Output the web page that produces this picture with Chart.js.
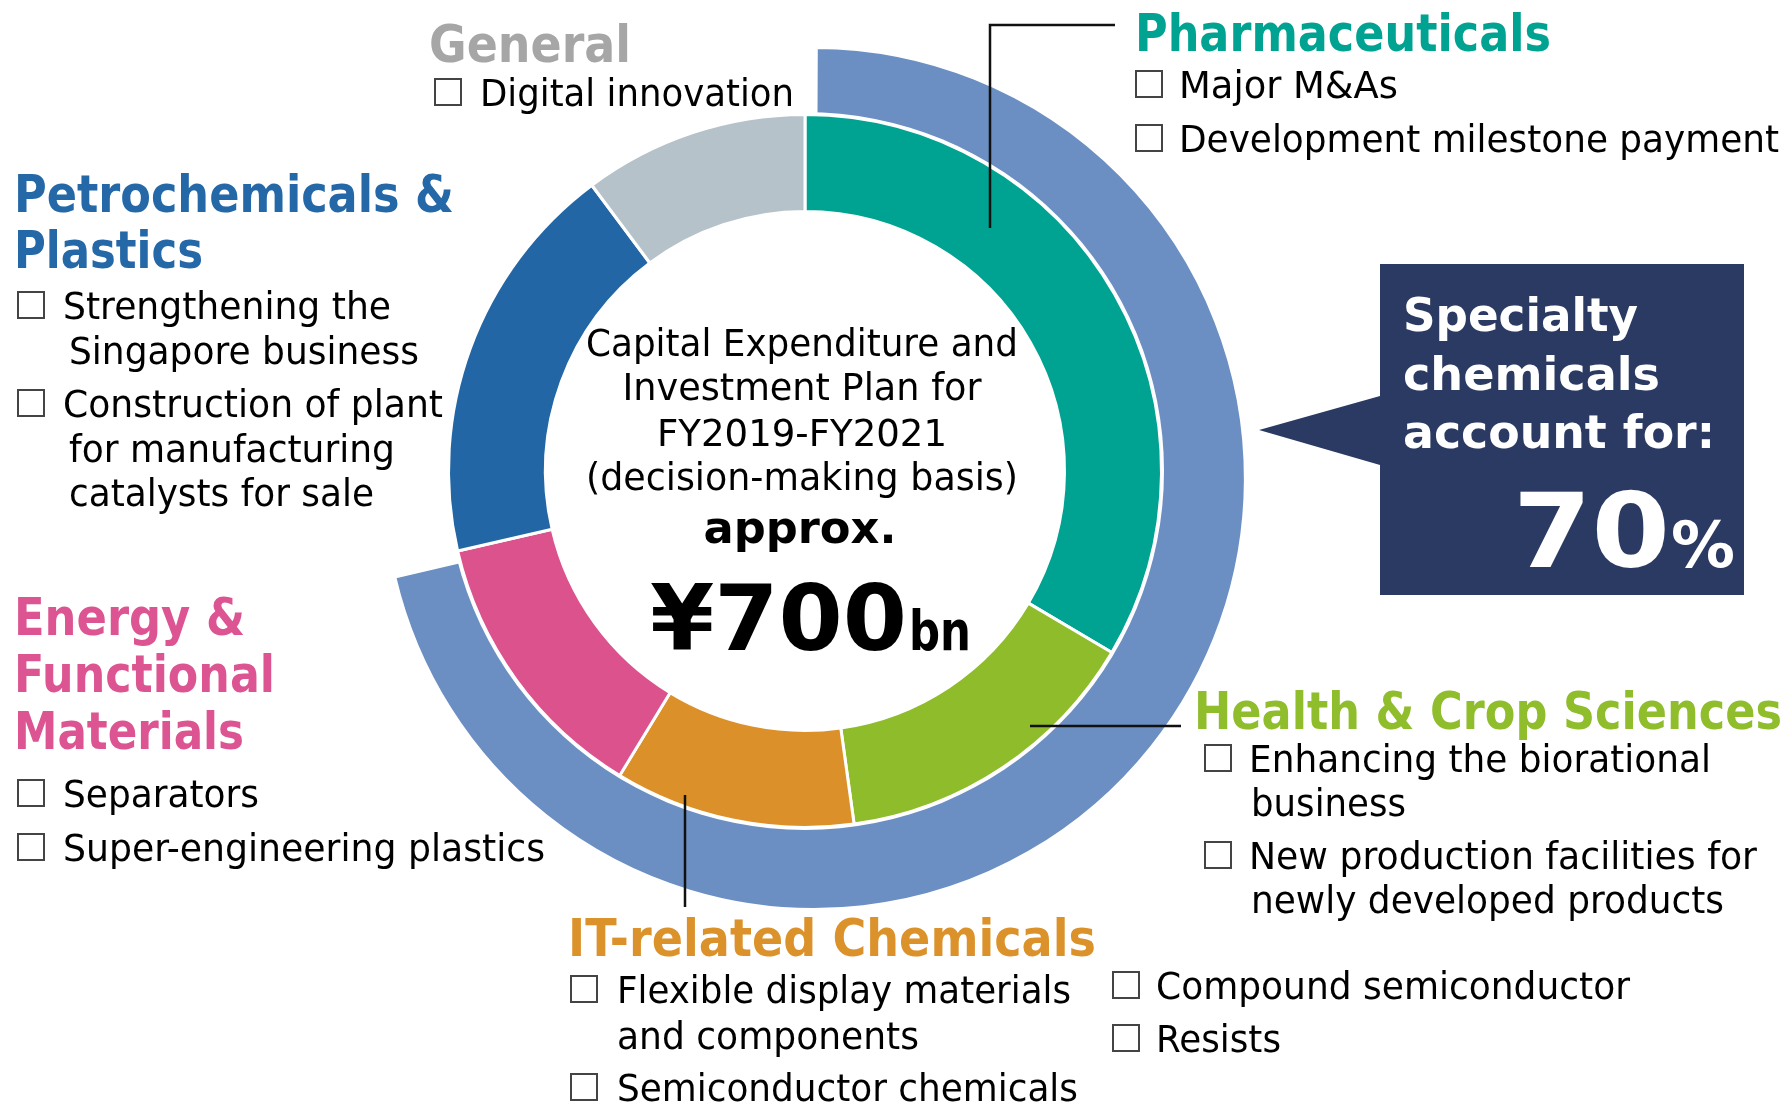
<!DOCTYPE html>
<html><head><meta charset="utf-8">
<script src="https://cdn.jsdelivr.net/npm/chart.js@4.4.1/dist/chart.umd.min.js"></script>
<style>
html,body{margin:0;padding:0;background:#fff;overflow:hidden}
#wrap{position:relative;width:1788px;height:1104px}
canvas{display:block}
</style></head>
<body><div id="wrap"><canvas id="c" width="1788" height="1104"></canvas></div>
<script>
// ---------- data ----------
const categories = ['Pharmaceuticals', 'Health & Crop Sciences', 'IT-related Chemicals',
  'Energy & Functional Materials', 'Petrochemicals & Plastics', 'General'];
const shares = [33.5, 14.3, 10.9, 12.7, 18.4, 10.2];           // % of ~¥700bn plan
const isSpecialty = [true, true, true, true, false, false];
const specialtyLabel = ['70', '%'];
const totalLabel = ['¥700', 'bn'];
const centerLines = ['Capital Expenditure and', 'Investment Plan for', 'FY2019-FY2021', '(decision-making basis)', 'approx.'];
const calloutLines = ['Specialty', 'chemicals', 'account for:'];
const headingLines = {
  general: ['General'],
  pharma: ['Pharmaceuticals'],
  petro: ['Petrochemicals &', 'Plastics'],
  energy: ['Energy &', 'Functional', 'Materials'],
  health: ['Health & Crop Sciences'],
  it: ['IT-related Chemicals']
};
const itemLines = {
  general: [['Digital innovation']],
  pharma: [['Major M&As'], ['Development milestone payment']],
  petro: [['Strengthening the', 'Singapore business'], ['Construction of plant', 'for manufacturing', 'catalysts for sale']],
  energy: [['Separators'], ['Super-engineering plastics']],
  health: [['Enhancing the biorational', 'business'], ['New production facilities for', 'newly developed products']],
  it: [['Flexible display materials', 'and components'], ['Semiconductor chemicals'], ['Compound semiconductor'], ['Resists']]
};

// ---------- derived ----------
const specialtyTotal = shares.reduce((s, v, i) => s + (isSpecialty[i] ? v : 0), 0);
const outerData = [specialtyTotal, 100 - specialtyTotal];

// ---------- styles / layout ----------
const FONT = '"DejaVu Sans", Verdana, sans-serif';
const segColors = ['#00a392', '#8fbc2a', '#dc9029', '#dc528d', '#2366a6', '#b5c2ca'];
const outerColor = '#6b8fc3';
const headColors = { general: '#a6a6a6', pharma: '#00a392', petro: '#2468a8', energy: '#dc5491', health: '#8fbd2b', it: '#dc922b' };
const HEAD = 'bold 52px ' + FONT;
const BODY = '37px ' + FONT;

// heading layout: [x, baseline, width] per line
const headLayout = {
  general: [[429, 62, 202]],
  pharma: [[1135, 51, 416]],
  petro: [[14, 212, 440], [14, 268, 189]],
  energy: [[14, 635, 231], [14, 692, 261], [14, 749, 230]],
  health: [[1194, 729, 588]],
  it: [[568, 956, 528]]
};
// item layout: box x, text x, [baseline, width] for each line
const itemLayout = {
  general: [[434, 480, [[106, 314]]]],
  pharma: [[1135, 1179, [[98, 219]]], [1135, 1179, [[152, 600]]]],
  petro: [[17, 63, [[319, 328], [364, 350]]], [17, 63, [[417, 380], [462, 326], [506, 305]]]],
  energy: [[17, 63, [[807, 196]]], [17, 63, [[861, 482]]]],
  health: [[1204, 1249, [[772, 462], [816, 155]]], [1204, 1249, [[869, 508], [913, 473]]]],
  it: [[570, 617, [[1003, 454], [1049, 302]]], [570, 617, [[1101, 461]]], [1112, 1156, [[999, 474]]], [1112, 1156, [[1052, 125]]]]
};
const contLineIndent = { petro: 6, health: 2, it: 0, general: 0, pharma: 0, energy: 0 };

function drawText(ctx, s, x, y, w, font, color, align) {
  ctx.save();
  ctx.font = font;
  const m = ctx.measureText(s).width;
  const sx = w ? w / m : 1;
  ctx.translate(x, y);
  ctx.scale(sx, 1);
  ctx.fillStyle = color;
  ctx.textBaseline = 'alphabetic';
  ctx.textAlign = 'left';
  ctx.fillText(s, align === 'center' ? -m / 2 : 0, 0);
  ctx.restore();
}

// white separation band between the outer (specialty) ring and the inner ring
const ringGap = {
  id: 'ringGap',
  beforeDatasetDraw(chart, args) {
    if (args.index !== 1) return;
    const meta = args.meta;
    const arc = meta.data[0];
    const ctx = chart.ctx;
    ctx.save();
    ctx.fillStyle = '#fff';
    ctx.beginPath();
    ctx.arc(arc.x, arc.y, meta.controller.outerRadius + 2.5, 0, Math.PI * 2);
    ctx.fill();
    ctx.restore();
  }
};

const annotations = {
  id: 'annotations',
  afterDraw(chart) {
    const ctx = chart.ctx;
    // leader lines
    ctx.save();
    ctx.strokeStyle = '#111';
    ctx.lineWidth = 2.5;
    ctx.beginPath();
    ctx.moveTo(1115, 25); ctx.lineTo(990, 25); ctx.lineTo(990, 228);
    ctx.moveTo(1030, 726); ctx.lineTo(1181, 726);
    ctx.moveTo(685, 795); ctx.lineTo(685, 907);
    ctx.stroke();
    ctx.restore();

    // callout
    ctx.save();
    ctx.fillStyle = '#2b3a63';
    ctx.beginPath();
    ctx.moveTo(1380, 264); ctx.lineTo(1744, 264); ctx.lineTo(1744, 595); ctx.lineTo(1380, 595);
    ctx.lineTo(1380, 465); ctx.lineTo(1259, 430); ctx.lineTo(1380, 396); ctx.closePath();
    ctx.fill();
    ctx.restore();
    const cl = [[1403, 331, 235], [1403, 390, 257], [1403, 448, 312]];
    calloutLines.forEach((s, i) => drawText(ctx, s, cl[i][0], cl[i][1], cl[i][2], 'bold 46px ' + FONT, '#fff'));
    drawText(ctx, specialtyLabel[0], 1513, 567, 157, 'bold 104px ' + FONT, '#fff');
    drawText(ctx, specialtyLabel[1], 1671, 567, 64, 'bold 64px ' + FONT, '#fff');

    // headings
    Object.keys(headingLines).forEach(k => {
      headingLines[k].forEach((s, i) => {
        const L = headLayout[k][i];
        drawText(ctx, s, L[0], L[1], L[2], HEAD, headColors[k]);
      });
    });
    // items
    Object.keys(itemLines).forEach(k => {
      itemLines[k].forEach((lines, j) => {
        const L = itemLayout[k][j];
        const firstBase = L[2][0][0];
        ctx.save();
        ctx.strokeStyle = '#444';
        ctx.lineWidth = 2;
        ctx.strokeRect(L[0] + 1, firstBase - 27, 26, 26);
        ctx.restore();
        lines.forEach((s, i) => {
          const [y, w] = L[2][i];
          drawText(ctx, s, L[1] + (i > 0 ? contLineIndent[k] : 0), y, w, BODY, '#000');
        });
      });
    });

    // centre text
    const cx = 802;
    const cLay = [[356, 432], [400, 359], [446, 290], [490, 432]];
    for (let i = 0; i < 4; i++) drawText(ctx, centerLines[i], cx, cLay[i][0], cLay[i][1], '37px ' + FONT, '#000', 'center');
    drawText(ctx, centerLines[4], 800, 543, 193, 'bold 44px ' + FONT, '#000', 'center');
    drawText(ctx, totalLabel[0], 650, 650, 257, 'bold 90px ' + FONT, '#000');
    drawText(ctx, totalLabel[1], 909, 650, 62, 'bold 56px ' + FONT, '#000');
  }
};

new Chart(document.getElementById('c'), {
  type: 'doughnut',
  data: {
    labels: categories,
    datasets: [
      {
        label: 'Specialty chemicals',
        data: outerData,
        backgroundColor: [outerColor, 'rgba(0,0,0,0)'],
        borderColor: ['#fff', 'rgba(0,0,0,0)'],
        borderWidth: [3, 0],
        offset: [48, 0],
        radius: 419,
        cutout: '56.563%',
        weight: 1,
        order: 1
      },
      {
        label: 'Plan by segment',
        data: shares,
        backgroundColor: segColors,
        borderColor: '#fff',
        borderWidth: 3,
        radius: 453.5,
        cutout: '57.222%',
        weight: 1,
        order: 0
      }
    ]
  },
  options: {
    responsive: false,
    animation: false,
    events: [],
    layout: { padding: { left: 373, top: 39, right: 551, bottom: 201 } },
    plugins: { legend: { display: false }, tooltip: { enabled: false } }
  },
  plugins: [ringGap, annotations]
});
</script>
</body></html>
